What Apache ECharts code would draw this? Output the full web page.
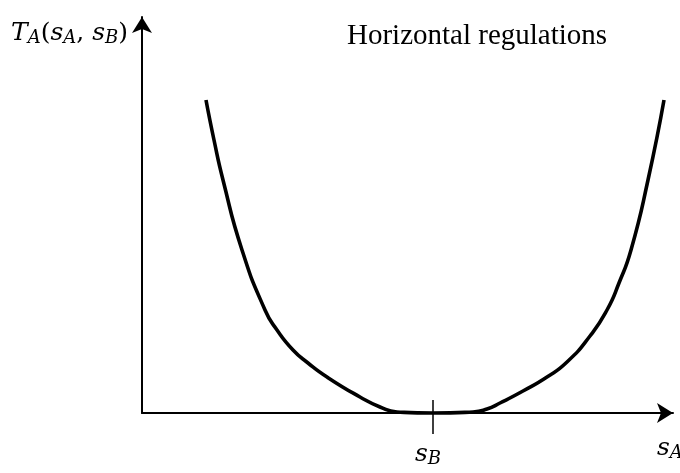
<!DOCTYPE html>
<html>
<head>
<meta charset="utf-8">
<script src="https://cdn.jsdelivr.net/npm/echarts@6/dist/echarts.min.js"></script>
<style>html,body{margin:0;padding:0;background:#fff;}#c{width:680px;height:473px;}</style>
</head>
<body>
<div id="c"></div>
<script>
// Curve T_A(s_A, s_B) (arbitrary units)
const sA = [64, 72, 81, 100, 123, 135, 151, 166, 185, 218, 238, 255, 291, 331, 345, 358, 381, 405, 425, 448, 465, 477, 489, 506, 522];
const TA = [313, 273, 233, 163, 103, 83, 63, 50, 36, 16, 6, 1, 0, 1, 4, 10, 22, 36, 51, 77, 103, 130, 163, 233, 313];
const sB = 291;
const xMax = 531;
const yMax = 396;
const titleText = 'Horizontal regulations';

const mathFont = 'DejaVu Serif';
const rich = {
  i: {fontFamily: mathFont, fontStyle: 'italic', fontSize: 25, color: '#000'},
  sub: {fontFamily: mathFont, fontStyle: 'italic', fontSize: 18, color: '#000', verticalAlign: 'bottom', padding: [10, 0, 0, 0]},
  n: {fontFamily: mathFont, fontSize: 25, color: '#000'}
};

const chart = echarts.init(document.getElementById('c'));
chart.setOption({
  animation: false,
  backgroundColor: '#fff',
  title: {
    text: titleText, left: 342, top: 17,
    textStyle: {fontFamily: 'Liberation Serif', fontWeight: 'normal', fontSize: 29, color: '#000'}
  },
  grid: {left: 142, right: 7, top: 17, bottom: 60},
  xAxis: [{
    type: 'value', min: 0, max: xMax, position: 'bottom',
    axisLine: {show: true, lineStyle: {color: '#000', width: 2}, symbol: ['none', 'arrow'], symbolSize: [15, 16]},
    axisTick: {show: true, customValues: [sB], length: 21, lineStyle: {color: '#000', width: 1.5}},
    axisLabel: {show: true, customValues: [sB], margin: 27, formatter: () => '{i|s}{sub|B}', rich: rich, padding: [0, 10, 0, 0]},
    splitLine: {show: false}
  }, {
    type: 'value', min: 0, max: xMax, position: 'bottom',
    axisLine: {show: false},
    axisTick: {show: true, inside: true, customValues: [sB], length: 13, lineStyle: {color: '#000', width: 1.5}},
    axisLabel: {show: false},
    splitLine: {show: false}
  }],
  yAxis: {
    type: 'value', min: 0, max: yMax,
    axisLine: {show: true, lineStyle: {color: '#000', width: 2}, symbol: ['none', 'arrow'], symbolSize: [15, 16]},
    axisTick: {show: false}, axisLabel: {show: false}, splitLine: {show: false}
  },
  graphic: [
    {type: 'text', left: 11, top: 21, style: {text: '{i|T}{sub|A}{n|(}{i|s}{sub|A}{n|, }{i|s}{sub|B}{n|)}', rich: rich}},
    {type: 'text', left: 657, top: 436, style: {text: '{i|s}{sub|A}', rich: rich}}
  ],
  series: [{
    type: 'line', smooth: 0.55, showSymbol: false, clip: false,
    data: sA.map((x, k) => [x, TA[k]]),
    lineStyle: {color: '#000', width: 3.6}
  }]
});
</script>
</body>
</html>
